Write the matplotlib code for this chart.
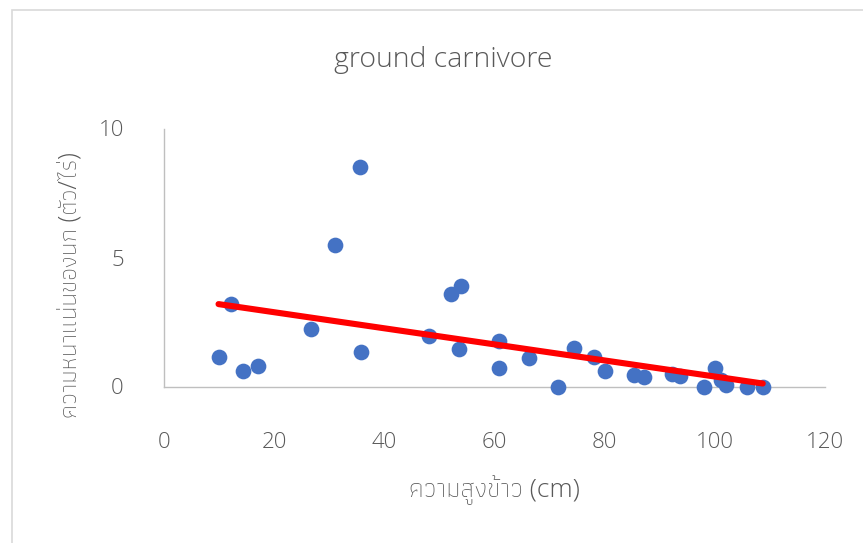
import matplotlib
matplotlib.use("Agg")
import matplotlib.pyplot as plt
import numpy as np
from matplotlib import font_manager
from matplotlib.ft2font import FT2Font
from matplotlib.patches import Rectangle

# Rice height (cm) and ground-carnivore bird density (birds per rai)
rice_height = [9.9, 12.1, 14.3, 17.0, 26.6, 31.1, 35.6, 35.8, 48.1, 52.1,
               53.9, 53.5, 60.8, 60.8, 66.2, 71.5, 74.5, 78.0, 80.1, 85.3,
               87.2, 92.3, 93.7, 98.0, 100.0, 101.2, 102.1, 105.8, 108.7]
bird_density = [1.15, 3.19, 0.61, 0.79, 2.22, 5.50, 8.52, 1.34, 1.96, 3.57,
                3.91, 1.47, 1.76, 0.73, 1.09, 0.00, 1.48, 1.13, 0.60, 0.45,
                0.36, 0.48, 0.41, 0.00, 0.70, 0.25, 0.06, 0.00, 0.00]
x_ticks = [0, 20, 40, 60, 80, 100, 120]
y_ticks = [0, 5, 10]

title_text = "ground carnivore"
x_label = "ความสูงข้าว (cm)"
y_label = "ความหนาแน่นของนก (ตัว/ไร่)"


def weight_num(w):
    if isinstance(w, (int, float)):
        return int(w)
    return font_manager.weight_dict.get(str(w), 400)


def fonts_with(codepoint):
    """All upright font entries that have a glyph for codepoint."""
    out, seen = [], set()
    for f in font_manager.fontManager.ttflist:
        if f.fname in seen or f.style != "normal":
            continue
        seen.add(f.fname)
        try:
            if codepoint in FT2Font(f.fname).get_charmap():
                out.append(f)
        except Exception:
            continue
    return out


entries = font_manager.fontManager.ttflist
installed = {f.name for f in entries}
latin = next((n for n in ["Open Sans", "Lato", "Roboto", "DejaVu Sans"] if n in installed), "DejaVu Sans")
latin_weights = {weight_num(f.weight) for f in entries if f.name == latin}
latin_weight = 300 if 300 in latin_weights else 400

thai_fonts = fonts_with(0x0E04)
thai = None
thai_weight = 400
if thai_fonts:
    # prefer a family that has a light cut
    light = [f for f in thai_fonts if 250 <= weight_num(f.weight) <= 350]
    pick = light[0] if light else min(thai_fonts, key=lambda f: abs(weight_num(f.weight) - 350))
    thai = pick.name
    thai_weight = weight_num(pick.weight)

families = [latin] + ([thai] if thai else []) + ["DejaVu Sans"]
plt.rcParams["font.family"] = families

text_grey = "#595959"
axis_grey = "#BFBFBF"

fig = plt.figure(figsize=(8.63, 5.43), dpi=100)
ax = fig.add_axes([164 / 863, 1 - 386.5 / 543, (825 - 164) / 863, (386.5 - 128.5) / 543])

# chart area border
fig.patches.append(Rectangle((12 / 863, -0.1), 1.2, 1 - 10 / 543 + 0.1,
                             transform=fig.transFigure, fill=False,
                             edgecolor="#D9D9D9", linewidth=1.2))

ax.scatter(rice_height, bird_density, s=128, color="#4472C4", zorder=3,
           clip_on=False, linewidths=0)

# linear trend line
coef = np.polyfit(rice_height, bird_density, 1)
xs = np.array([min(rice_height), max(rice_height)])
ax.plot(xs, np.polyval(coef, xs), color="#FF0000", linewidth=4.4,
        solid_capstyle="round", zorder=4, clip_on=False)

ax.set_xlim(0, 120)
ax.set_ylim(0, 10)
ax.set_xticks(x_ticks)
ax.set_yticks(y_ticks)
ax.tick_params(length=0, labelsize=16, labelcolor=text_grey)
ax.tick_params(axis="y", pad=29)
ax.tick_params(axis="x", pad=33)
for lbl in ax.get_xticklabels() + ax.get_yticklabels():
    lbl.set_fontweight(latin_weight)

for side in ["top", "right"]:
    ax.spines[side].set_visible(False)
for side in ["left", "bottom"]:
    ax.spines[side].set_color(axis_grey)
    ax.spines[side].set_linewidth(1.0)

fig.text(443 / 863, 1 - 60 / 543, title_text, ha="center", va="center",
         fontsize=20.5, color=text_grey, fontweight=latin_weight)
fig.text(494 / 863, 1 - 490 / 543, x_label, ha="center", va="center",
         fontsize=19, color=text_grey, fontweight=thai_weight)
fig.text(70 / 863, 1 - 285 / 543, y_label, ha="center", va="center",
         rotation=90, fontsize=18, color=text_grey, fontweight=thai_weight)

fig.savefig("out.png", dpi=100)
